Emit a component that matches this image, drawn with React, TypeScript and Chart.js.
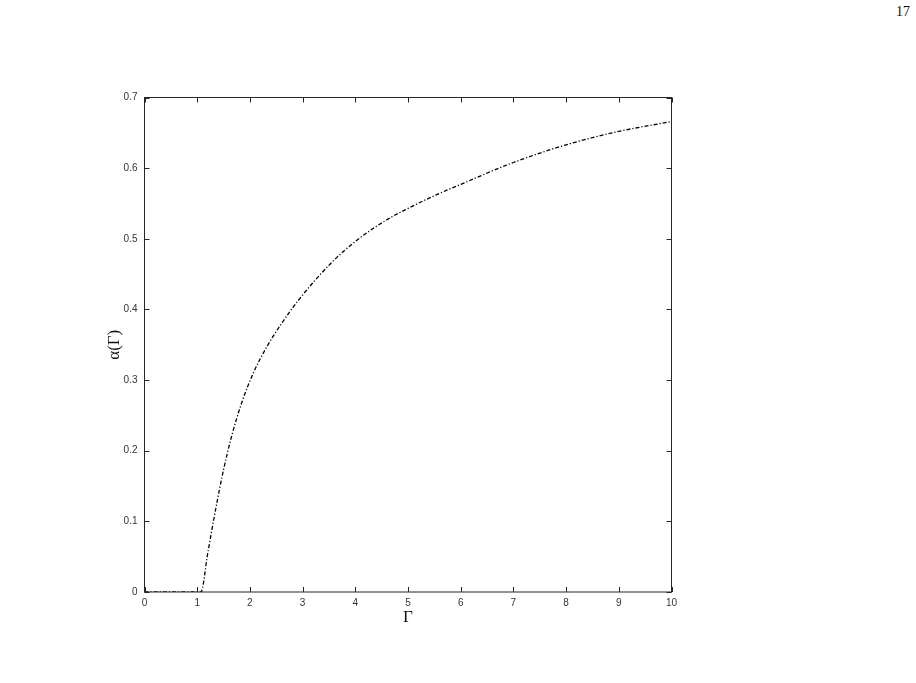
import React, { useEffect, useRef } from "react";
import { Chart, registerables } from "chart.js";

Chart.register(...registerables);

const gammaValues = [0, 0.5, 1.0, 1.07, 1.2, 1.37, 1.5, 1.655, 1.845, 2.065, 2.32, 2.6, 2.92, 3.52, 4.03, 4.6, 5.0, 5.5, 6.0, 7.0, 8.0, 9.0, 10.0];
const alphaValues = [0, 0, 0, 0, 0.055, 0.125, 0.173, 0.221, 0.268, 0.31, 0.347, 0.38, 0.413, 0.464, 0.498, 0.527, 0.543, 0.561, 0.577, 0.608, 0.633, 0.652, 0.666];
const xTickStep = 1;
const yTickStep = 0.1;
const xLabel = "Γ";
const yLabel = "α(Γ)";
const pageNumber = "17";

const frameColor = "#262626";

const framePlugin = {
  id: "matlabFrame",
  afterDraw(chart: any) {
    const { ctx, chartArea } = chart;
    const { left, right, top, bottom } = chartArea;
    const tl = 5;
    ctx.save();
    ctx.strokeStyle = frameColor;
    ctx.lineWidth = 1;
    ctx.strokeRect(left, top, right - left, bottom - top);
    const xs = chart.scales.x;
    const ys = chart.scales.y;
    ctx.beginPath();
    xs.ticks.forEach((t: any) => {
      const px = Math.round(xs.getPixelForValue(t.value)) + 0.5;
      ctx.moveTo(px, bottom);
      ctx.lineTo(px, bottom - tl);
      ctx.moveTo(px, top);
      ctx.lineTo(px, top + tl);
    });
    ys.ticks.forEach((t: any) => {
      const py = Math.round(ys.getPixelForValue(t.value)) + 0.5;
      ctx.moveTo(left, py);
      ctx.lineTo(left + tl, py);
      ctx.moveTo(right, py);
      ctx.lineTo(right - tl, py);
    });
    ctx.stroke();
    ctx.restore();
  },
};

export default function App() {
  const canvasRef = useRef<HTMLCanvasElement | null>(null);

  useEffect(() => {
    if (!canvasRef.current) return;
    const chart = new Chart(canvasRef.current, {
      type: "line",
      data: {
        datasets: [
          {
            data: gammaValues.map((g, i) => ({ x: g, y: alphaValues[i] })),
            borderColor: "#000",
            borderWidth: 1.3,
            borderDash: [4, 2, 1.2, 2],
            pointRadius: 0,
            fill: false,
            cubicInterpolationMode: "monotone",
          },
        ],
      },
      options: {
        animation: false,
        responsive: true,
        maintainAspectRatio: false,
        layout: { padding: { left: 100.5, top: 97.5, right: 244.5, bottom: 46 } },
        plugins: { legend: { display: false }, tooltip: { enabled: false } },
        scales: {
          x: {
            type: "linear",
            min: 0,
            max: 10,
            grid: { display: false, drawTicks: false },
            border: { display: false },
            ticks: {
              stepSize: xTickStep,
              color: "#333",
              font: { family: "Liberation Sans, Arial, sans-serif", size: 10 },
              padding: 5,
              maxRotation: 0,
            },
            title: {
              display: true,
              text: xLabel,
              color: "#111",
              font: { family: "Liberation Serif, Times New Roman, serif", size: 17 },
              padding: { top: 0, bottom: 9 },
            },
            afterFit: (scale: any) => {
              scale.height = 45;
            },
          },
          y: {
            type: "linear",
            min: 0,
            max: 0.7,
            grid: { display: false, drawTicks: false },
            border: { display: false },
            ticks: {
              stepSize: yTickStep,
              color: "#333",
              font: { family: "Liberation Sans, Arial, sans-serif", size: 10 },
              padding: 7,
              callback: (v: any) => (Math.round(Number(v) * 10) / 10).toString(),
            },
            title: {
              display: true,
              text: yLabel,
              color: "#111",
              font: { family: "Liberation Serif, Times New Roman, serif", size: 17 },
              padding: { top: 4, bottom: 0 },
            },
            afterFit: (scale: any) => {
              scale.width = 44;
            },
          },
        },
      },
      plugins: [framePlugin],
    });
    return () => chart.destroy();
  }, []);

  return (
    <div style={{ position: "absolute", left: 0, top: 0, width: 916, height: 683, background: "#fff", overflow: "hidden" }}>
      <div
        style={{
          position: "absolute",
          left: 891,
          top: 4,
          width: 24,
          textAlign: "center",
          fontFamily: "Liberation Serif, Times New Roman, serif",
          fontSize: 14,
          color: "#111",
        }}
      >
        {pageNumber}
      </div>
      <canvas ref={canvasRef} style={{ position: "absolute", left: 0, top: 0, width: 916, height: 683 }} />
    </div>
  );
}
